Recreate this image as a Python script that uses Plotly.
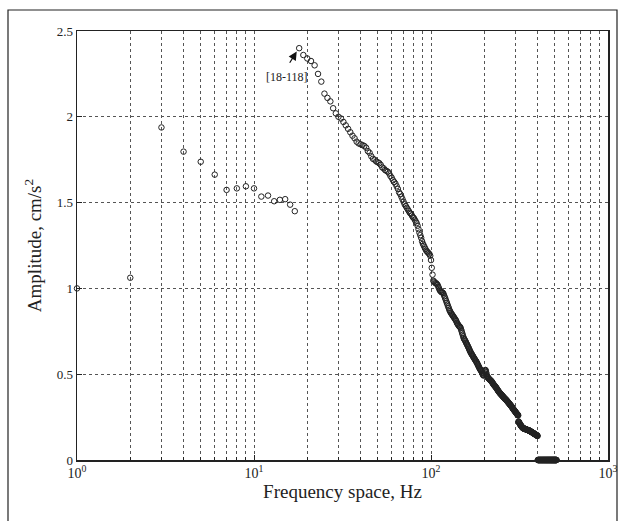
import math
import plotly.graph_objects as go

# Amplitude (cm/s^2) at integer frequency bins 1..512 Hz
amp_low = [1.00, 1.062, 1.938, 1.797, 1.738, 1.663, 1.574, 1.583, 1.595, 1.583,
           1.535, 1.541, 1.508, 1.516, 1.520, 1.488, 1.450]          # f = 1..17

amp_peak = [2.40, 2.36, 2.34,                                         # f = 18..20
            2.325, 2.30, 2.25, 2.205, 2.135, 2.11, 2.09, 2.05, 2.02, 2.00,   # 21..30
            1.99, 1.97, 1.95, 1.93, 1.91, 1.89, 1.875, 1.855, 1.845, 1.84,   # 31..40
            1.835, 1.83, 1.82, 1.80, 1.79, 1.77, 1.755, 1.75, 1.74, 1.735,   # 41..50
            1.73, 1.72, 1.705, 1.70, 1.69, 1.685, 1.68, 1.67, 1.655, 1.645,  # 51..60
            1.63, 1.62, 1.61, 1.595, 1.58, 1.56, 1.55, 1.535, 1.52, 1.505,   # 61..70
            1.49, 1.48, 1.47, 1.46, 1.45, 1.44, 1.435, 1.425, 1.415, 1.41,   # 71..80
            1.40, 1.39, 1.38, 1.365, 1.345, 1.325, 1.31, 1.295, 1.275, 1.26, # 81..90
            1.25, 1.24, 1.23, 1.22, 1.215, 1.21, 1.205, 1.20, 1.19, 1.165]   # 91..100

amp_high = [1.12, 1.08, 1.045, 1.04, 1.035, 1.03, 1.03, 1.025, 1.02, 1.01,      # 101..110
            1.00, 0.99, 0.985, 0.98, 0.978, 0.976, 0.973, 0.965, 0.955, 0.945,  # 111..120
            0.935, 0.925, 0.915, 0.905, 0.895, 0.885, 0.875, 0.868, 0.86, 0.855,# 121..130
            0.85, 0.845, 0.84, 0.835, 0.83, 0.825, 0.82, 0.815, 0.81, 0.80,     # 131..140
            0.795, 0.79, 0.785, 0.78, 0.778, 0.775, 0.77, 0.76, 0.75, 0.74,     # 141..150
            0.73, 0.72, 0.71, 0.705, 0.70, 0.695, 0.69, 0.683, 0.677, 0.672,    # 151..160
            0.666, 0.66, 0.655, 0.648, 0.642, 0.636, 0.63, 0.625, 0.62, 0.616,  # 161..170
            0.612, 0.607, 0.603, 0.598, 0.594, 0.59, 0.586, 0.582, 0.578, 0.574,# 171..180
            0.57, 0.565, 0.56, 0.555, 0.55, 0.545, 0.54, 0.535, 0.53, 0.527,    # 181..190
            0.524, 0.52, 0.515, 0.51, 0.505, 0.50, 0.495, 0.492, 0.495, 0.505,  # 191..200
            0.515, 0.522, 0.525, 0.52, 0.51, 0.50, 0.49, 0.485, 0.482, 0.48,    # 201..210
            0.477, 0.475, 0.472, 0.47, 0.468, 0.466, 0.464, 0.462, 0.46, 0.458, # 211..220
            0.455, 0.452, 0.448, 0.445, 0.442, 0.44, 0.437, 0.434, 0.432, 0.43, # 221..230
            0.428, 0.425, 0.422, 0.42, 0.417, 0.414, 0.411, 0.408, 0.405, 0.402,# 231..240
            0.40, 0.397, 0.395, 0.392, 0.39, 0.388, 0.386, 0.384, 0.382, 0.38,  # 241..250
            0.378, 0.376, 0.374, 0.372, 0.37, 0.368, 0.366, 0.364, 0.362, 0.36, # 251..260
            0.358, 0.357, 0.355, 0.353, 0.352, 0.35, 0.348, 0.346, 0.344, 0.342,# 261..270
            0.34, 0.338, 0.336, 0.334, 0.332, 0.33, 0.328, 0.326, 0.324, 0.322, # 271..280
            0.32, 0.318, 0.316, 0.314, 0.312, 0.31, 0.308, 0.305, 0.303, 0.30,  # 281..290
            0.298, 0.296, 0.294, 0.292, 0.29, 0.288, 0.286, 0.284, 0.282, 0.28, # 291..300
            0.278, 0.276, 0.274, 0.272, 0.27, 0.268, 0.266, 0.265, 0.263, 0.262,# 301..310
            0.26, 0.225, 0.222, 0.22, 0.218, 0.215, 0.212, 0.21, 0.207, 0.205,  # 311..320
            0.203, 0.201, 0.199, 0.197, 0.195, 0.193, 0.192, 0.19, 0.189, 0.188,# 321..330
            0.186, 0.185, 0.184, 0.184, 0.183, 0.183, 0.182, 0.182, 0.181, 0.181,  # 331..340
            0.180, 0.180, 0.179, 0.179, 0.178, 0.178, 0.177, 0.177, 0.176, 0.176,  # 341..350
            0.175, 0.175, 0.174, 0.174, 0.173, 0.173, 0.172, 0.172, 0.171, 0.171,  # 351..360
            0.170, 0.169, 0.168, 0.168, 0.167, 0.166, 0.165, 0.165, 0.164, 0.163,  # 361..370
            0.162, 0.162, 0.161, 0.160, 0.159, 0.159, 0.158, 0.157, 0.156, 0.155,  # 371..380
            0.155, 0.154, 0.153, 0.152, 0.152, 0.151, 0.150, 0.149, 0.149, 0.148,  # 381..390
            0.147, 0.146, 0.146, 0.145, 0.144, 0.143, 0.143, 0.142, 0.141, 0.140]  # 391..400

amp_zero = [0, 0, 0, 0, 0, 0, 0, 0, 0, 0, 0, 0, 0, 0, 0, 0,   # 401..512
            0, 0, 0, 0, 0, 0, 0, 0, 0, 0, 0, 0, 0, 0, 0, 0,
            0, 0, 0, 0, 0, 0, 0, 0, 0, 0, 0, 0, 0, 0, 0, 0,
            0, 0, 0, 0, 0, 0, 0, 0, 0, 0, 0, 0, 0, 0, 0, 0,
            0, 0, 0, 0, 0, 0, 0, 0, 0, 0, 0, 0, 0, 0, 0, 0,
            0, 0, 0, 0, 0, 0, 0, 0, 0, 0, 0, 0, 0, 0, 0, 0,
            0, 0, 0, 0, 0, 0, 0, 0, 0, 0, 0, 0, 0, 0, 0, 0]

amplitude = amp_low + amp_peak + amp_high + amp_zero
frequency = list(range(1, len(amplitude) + 1))

x_tickvals = [1, 10, 100, 1000]
x_ticktext = ["10<sup>0</sup>", "10<sup>1</sup>", "10<sup>2</sup>", "10<sup>3</sup>"]
x_minorvals = [m * 10 ** d for d in range(3) for m in range(2, 10)]
y_tickvals = [0, 0.5, 1, 1.5, 2, 2.5]
y_ticktext = ["0", "0.5", "1", "1.5", "2", "2.5"]

peak_label = "[18-118]"
peak_freq, peak_amp = 17.43, 2.38
label_freq, label_amp = 15.3, 2.233

FONT = "Liberation Serif, Times New Roman, serif"

W, H = 624, 521
ML, MR, MT, MB = 77, 16, 31, 61
PW, PH = W - ML - MR, H - MT - MB

fig = go.Figure()
fig.add_trace(go.Scatter(
    x=frequency, y=amplitude, mode="markers",
    marker=dict(symbol="circle-open", size=5.5, color="#222", line=dict(width=1, color="#222")),
    showlegend=False, cliponaxis=False, hoverinfo="skip",
))

# log axis: annotation x positions are given in log10 units
fig.add_annotation(x=math.log10(peak_freq), y=peak_amp, xref="x", yref="y",
                   ax=-10, ay=16, text=" ", showarrow=True, arrowhead=2, arrowsize=1.4,
                   arrowwidth=1.2, arrowcolor="#111", standoff=0)
fig.add_annotation(x=math.log10(label_freq), y=label_amp, xref="x", yref="y", text=peak_label,
                   showarrow=False, font=dict(family=FONT, size=12, color="#222"))

# outer frame of the figure
fig.add_shape(type="rect", xref="paper", yref="paper",
              x0=(8 - ML) / PW, x1=(617 - ML) / PW,
              y0=-(H + 10 - MT - PH) / PH, y1=(MT + PH - 10) / PH,
              line=dict(color="#222", width=1.2), fillcolor="rgba(0,0,0,0)", layer="below")

grid = dict(showgrid=True, gridcolor="#555", griddash="dot", gridwidth=1)
fig.update_xaxes(type="log", range=[0, 3], tickmode="array", tickvals=x_tickvals, ticktext=x_ticktext,
                 ticks="inside", ticklen=5, tickcolor="#222", showline=True, linecolor="#222", linewidth=1.5,
                 mirror=True, zeroline=False, automargin=False,
                 minor=dict(tickmode="array", tickvals=x_minorvals, ticks="inside", ticklen=3,
                            tickcolor="#222", showgrid=True, gridcolor="#555", griddash="dot", gridwidth=1),
                 tickfont=dict(family=FONT, size=14, color="#222"),
                 title=dict(text="Frequency space, Hz", font=dict(family=FONT, size=19, color="#222"), standoff=4),
                 **grid)
fig.update_yaxes(range=[0, 2.5], tickmode="array", tickvals=y_tickvals, ticktext=y_ticktext,
                 ticks="inside", ticklen=5, tickcolor="#222", showline=True, linecolor="#222", linewidth=1.5,
                 mirror=True, zeroline=False, automargin=False,
                 tickfont=dict(family=FONT, size=13, color="#222"),
                 title=dict(text="Amplitude, cm/s<sup>2</sup>", font=dict(family=FONT, size=19, color="#222"), standoff=10),
                 **grid)
fig.update_layout(width=W, height=H, margin=dict(l=ML, r=MR, t=MT, b=MB),
                  paper_bgcolor="white", plot_bgcolor="white", hovermode=False)

fig.write_html("out.html", config={"displayModeBar": False, "staticPlot": True},
               post_script="document.body.style.margin='0';document.documentElement.style.overflow='hidden';")
